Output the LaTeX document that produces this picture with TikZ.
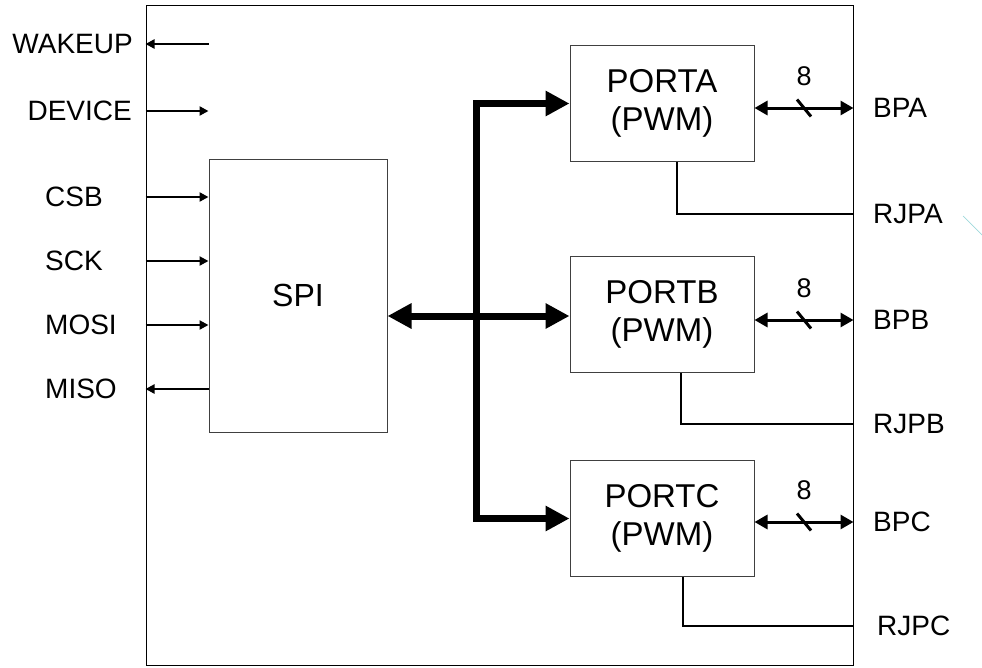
\documentclass[tikz,border=0pt]{standalone}
\usepackage{fontspec}
\setmainfont{Liberation Sans}
\usetikzlibrary{positioning,arrows.meta}
\definecolor{FrameGray}{HTML}{404040}
\definecolor{HintCyan}{HTML}{9ED8DB}

\begin{document}
\begin{tikzpicture}[x=1pt, y=-1pt,
        frame/.style={rectangle, draw=black, line width=1pt, minimum width=707pt, minimum height=660pt, inner sep=0pt},
        spibox/.style={rectangle, draw=FrameGray, line width=1pt, minimum width=178pt, minimum height=273pt, font=\fontsize{32}{38}\selectfont},
        portbox/.style={rectangle, draw=FrameGray, line width=1pt, minimum width=184pt, minimum height=116pt, align=center, font=\fontsize{33}{38}\selectfont},
        pinlabel/.style={inner sep=0pt, font=\fontsize{28}{33}\selectfont},
        widthlabel/.style={inner sep=0pt, font=\fontsize{27}{30}\selectfont},
        sig/.style={draw=black, line width=2.5pt, -{Triangle[length=9pt, width=9pt]}},
        bus/.style={draw=black, line width=7pt, {Triangle[length=24pt, width=24pt]}-{Triangle[length=24pt, width=24pt]}},
        bidir/.style={draw=black, line width=3pt, {Triangle[length=13pt, width=14pt]}-{Triangle[length=13pt, width=14pt]}},
        tap/.style={draw=black, line width=2.5pt}
    ]
        \useasboundingbox (0,0) rectangle (982,667);

        \node [frame] (chip) at (499.5,335) {};
        \node [spibox] (spi) at (298,295.5) {SPI};
        \node [portbox] (porta) at (662,103.5) {PORTA\\(PWM)};
        \node [portbox] (portb) at (662,314.5) {PORTB\\(PWM)};
        \node [portbox] (portc) at (662,518.5) {PORTC\\(PWM)};
        \coordinate (busx) at (476,316);

        % left pins
        \node [pinlabel, anchor=east] (wakeup) at (133,44) {WAKEUP};
        \node [pinlabel, anchor=east] (device) at (132,111) {DEVICE};
        \node [pinlabel, anchor=west] (csb) at (45,197) {CSB};
        \node [pinlabel, anchor=west] (sck) at (45,261) {SCK};
        \node [pinlabel, anchor=west] (mosi) at (45,325) {MOSI};
        \node [pinlabel, anchor=west] (miso) at (45,389) {MISO};

        \draw [sig] (spi.west |- wakeup) -- (chip.west |- wakeup);
        \draw [sig] (chip.west |- device) -- (spi.west |- device);
        \draw [sig] (chip.west |- csb) -- (spi.west |- csb);
        \draw [sig] (chip.west |- sck) -- (spi.west |- sck);
        \draw [sig] (chip.west |- mosi) -- (spi.west |- mosi);
        \draw [sig] (spi.west |- miso) -- (chip.west |- miso);

        % internal bus
        \draw [bus] (porta.west) -| (busx |- portc.west) -- (portc.west);
        \draw [bus] (spi.east |- busx) -- (portb.west |- busx);

        % right pins
        \node [pinlabel, anchor=west] (bpa) at (873,108) {BPA};
        \node [pinlabel, anchor=west] (rjpa) at (873,214) {RJPA};
        \node [pinlabel, anchor=west] (bpb) at (873,320) {BPB};
        \node [pinlabel, anchor=west] (rjpb) at (873,424) {RJPB};
        \node [pinlabel, anchor=west] (bpc) at (873,522) {BPC};
        \node [pinlabel, anchor=west] (rjpc) at (877,626) {RJPC};

        \draw [bidir] (porta.east |- bpa) -- coordinate[midway] (cuta) (chip.east |- bpa);
        \draw [tap, line width=3pt] ([shift={(-7,-8.5)}]cuta) -- ([shift={(7,8.5)}]cuta);
        \node [widthlabel, above=22pt of cuta] (wida) {8};
        \draw [bidir] (portb.east |- bpb) -- coordinate[midway] (cutb) (chip.east |- bpb);
        \draw [tap, line width=3pt] ([shift={(-7,-8.5)}]cutb) -- ([shift={(7,8.5)}]cutb);
        \node [widthlabel, above=22pt of cutb] (widb) {8};
        \draw [bidir] (portc.east |- bpc) -- coordinate[midway] (cutc) (chip.east |- bpc);
        \draw [tap, line width=3pt] ([shift={(-7,-8.5)}]cutc) -- ([shift={(7,8.5)}]cutc);
        \node [widthlabel, above=22pt of cutc] (widc) {8};

        \draw [tap] ([xshift=15pt]porta.south) |- (chip.east |- rjpa);
        \draw [tap] ([xshift=19pt]portb.south) |- (chip.east |- rjpb);
        \draw [tap] ([xshift=21pt]portc.south) |- (chip.east |- rjpc);

        \draw [HintCyan, line width=0.7pt] (963,216) -- (982,235);
    \end{tikzpicture}
\end{document}
